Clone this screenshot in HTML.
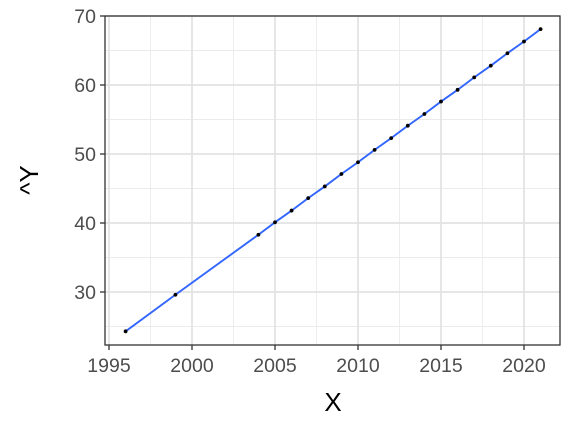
<!DOCTYPE html>
<html><head><meta charset="utf-8"><style>
body{margin:0;background:#fff;}
svg{display:block;font-family:"Liberation Sans",Arial,sans-serif;}
</style></head><body>
<svg id="chart" width="576" height="432">
<rect x="0" y="0" width="576" height="432" fill="#fff"/>
<g id="grid"></g>
<g id="marks"></g>
<rect x="105" y="16" width="455" height="329" fill="none" stroke="#333" stroke-width="1.3"/>
<g id="axes"></g>
<text x="333" y="411" text-anchor="middle" font-size="26" fill="#000">X</text>
<text transform="translate(38,180) rotate(-90)" text-anchor="middle" font-size="26" fill="#000">^Y</text>
</svg>
<script>
const years=[1996,1999,2004,2005,2006,2007,2008,2009,2010,2011,2012,2013,2014,2015,2016,2017,2018,2019,2020,2021];
const yhat=[24.3,29.6,38.3,40.1,41.8,43.6,45.3,47.1,48.8,50.6,52.3,54.1,55.8,57.6,59.3,61.1,62.8,64.6,66.3,68.1];
const xTicks=[1995,2000,2005,2010,2015,2020];
const yTicks=[30,40,50,60,70];
const NS='http://www.w3.org/2000/svg';
const L=105,R=560,T=16,B=345;
const X=v=>109+(v-1995)*16.6;
const Y=v=>16+(70-v)*6.9;
function mk(tag,attrs,parent){const e=document.createElementNS(NS,tag);for(const k in attrs)e.setAttribute(k,attrs[k]);parent.appendChild(e);return e;}
const grid=document.getElementById('grid'),marks=document.getElementById('marks'),axes=document.getElementById('axes');
for(let i=0;i<xTicks.length+1;i++){const v=xTicks[0]-2.5+i*5;const x=X(v);if(x>L&&x<R){const l=mk('line',{x1:x,x2:x,y1:T,y2:B,stroke:'#ebebeb','stroke-width':0.9},grid);}}
for(let i=0;i<yTicks.length+1;i++){const v=yTicks[0]-5+i*10;const y=Y(v);if(y>T&&y<B){const l=mk('line',{x1:L,x2:R,y1:y,y2:y,stroke:'#ebebeb','stroke-width':0.9},grid);}}
xTicks.forEach(v=>{const x=X(v);
const g=mk('line',{x1:x,x2:x,y1:T,y2:B,stroke:'#e3e3e3','stroke-width':1.8},grid);

const t=mk('line',{x1:x,x2:x,y1:B,y2:B+5,stroke:'#333','stroke-width':1.3},axes);

const lb=mk('text',{x:x,y:B+27,'text-anchor':'middle','font-size':19.5,fill:'#4d4d4d'},axes);lb.textContent=v;
});
yTicks.forEach(v=>{const y=Y(v);
const g=mk('line',{x1:L,x2:R,y1:y,y2:y,stroke:'#e3e3e3','stroke-width':1.8},grid);

const t=mk('line',{x1:L-5,x2:L,y1:y,y2:y,stroke:'#333','stroke-width':1.3},axes);

const lb=mk('text',{x:L-9,y:y+7,'text-anchor':'end','font-size':19.5,fill:'#4d4d4d'},axes);lb.textContent=v;
});
const pts=years.map((v,i)=>X(v)+','+Y(yhat[i])).join(' ');
const pl=mk('polyline',{points:pts,fill:'none',stroke:'#3366ff','stroke-width':1.9},marks);

years.forEach((v,i)=>{const c=mk('circle',{cx:X(v),cy:Y(yhat[i]),r:1.9,fill:'#000'},marks);
});
</script>
</body></html>
